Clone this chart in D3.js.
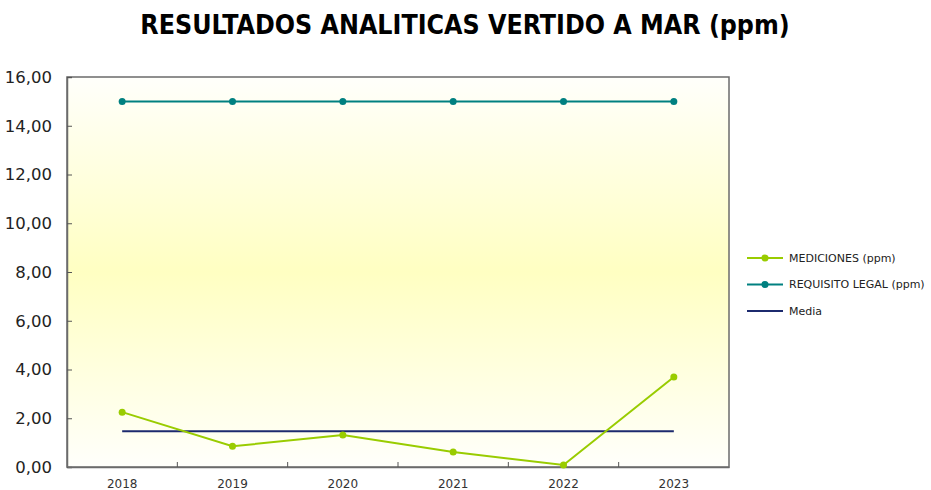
<!DOCTYPE html>
<html>
<head>
<meta charset="utf-8">
<script src="https://cdn.jsdelivr.net/npm/d3@7"></script>
<style>
  body { margin: 0; background: #fff; }
  text { font-family: "DejaVu Sans", Verdana, sans-serif; }
</style>
</head>
<body>
<div id="chart"></div>
<script>
// data
var years = ["2018", "2019", "2020", "2021", "2022", "2023"];
var mediciones = [2.25, 0.85, 1.31, 0.62, 0.08, 3.69];
var requisito = [15, 15, 15, 15, 15, 15];
var media = [1.47, 1.47, 1.47, 1.47, 1.47, 1.47];
var yTicks = [0, 2, 4, 6, 8, 10, 12, 14, 16];

var W = 931, H = 490;
var margin = { top: 77, right: 202, bottom: 23, left: 67 },
    width = W - margin.left - margin.right,
    height = H - margin.top - margin.bottom;

var svg = d3.select("#chart")
    .append("svg")
    .attr("width", W)
    .attr("height", H);

// yellow background band
var defs = svg.append("defs");
var grad = defs.append("linearGradient")
    .attr("id", "bg")
    .attr("x1", 0).attr("y1", 0).attr("x2", 0).attr("y2", 1);
grad.append("stop").attr("offset", "0%").attr("stop-color", "#fffffb");
grad.append("stop").attr("offset", "50%").attr("stop-color", "#ffffc2");
grad.append("stop").attr("offset", "100%").attr("stop-color", "#fffffb");

svg.append("text")
    .attr("x", 465)
    .attr("y", 34)
    .attr("text-anchor", "middle")
    .style("font-family", "'DejaVu Sans Condensed', 'DejaVu Sans', sans-serif")
    .style("font-weight", "bold")
    .style("font-size", "26.5px")
    .style("fill", "#000")
    .text("RESULTADOS ANALITICAS VERTIDO A MAR (ppm)");

var g = svg.append("g")
    .attr("transform", "translate(" + margin.left + "," + margin.top + ")");

var x = d3.scaleBand().domain(years).range([0, width]);
var y = d3.scaleLinear().domain([0, 16]).range([height, 0]);

g.append("rect")
    .attr("width", width)
    .attr("height", height)
    .attr("fill", "url(#bg)")
    .attr("stroke", "#6b6b6b")
    .attr("stroke-width", 1.5);

// y axis (ticks pointing inward)
var yAxis = g.append("g")
    .call(d3.axisLeft(y).tickValues(yTicks).tickSize(-5).tickPadding(15)
        .tickFormat(function(d) { return d3.format(".2f")(d).replace(".", ","); }));
yAxis.select(".domain").attr("stroke", "#6b6b6b").attr("stroke-width", 1.5);
yAxis.selectAll(".tick line").attr("stroke", "#555");
yAxis.selectAll("text")
    .style("font-size", "16.5px")
    .style("fill", "#222");

// x axis: labels centred, ticks on band edges
var xAxis = g.append("g")
    .attr("transform", "translate(0," + height + ")")
    .call(d3.axisBottom(x).tickSize(0).tickPadding(12));
xAxis.select(".domain").attr("stroke", "#6b6b6b").attr("stroke-width", 1.5);
xAxis.selectAll("text")
    .style("font-size", "12px")
    .style("fill", "#333");

g.selectAll(".xtick")
    .data(years.slice(1))
    .enter().append("line")
    .attr("class", "xtick")
    .attr("x1", function(d) { return x(d); })
    .attr("x2", function(d) { return x(d); })
    .attr("y1", height)
    .attr("y2", height - 5)
    .attr("stroke", "#555");

var line = d3.line()
    .x(function(d, i) { return x(years[i]) + x.bandwidth() / 2; })
    .y(function(d) { return y(d); });

var series = [
    { name: "MEDICIONES (ppm)", values: mediciones, color: "#99cc00", marker: true },
    { name: "REQUISITO LEGAL (ppm)", values: requisito, color: "#008080", marker: true },
    { name: "Media", values: media, color: "#1c2a6e", marker: false }
];

// draw media first so the others sit on top
[series[2], series[1], series[0]].forEach(function(s) {
    g.append("path")
        .datum(s.values)
        .attr("d", line)
        .attr("fill", "none")
        .attr("stroke", s.color)
        .attr("stroke-width", 2);
    if (s.marker) {
        g.selectAll(null)
            .data(s.values)
            .enter().append("circle")
            .attr("cx", function(d, i) { return x(years[i]) + x.bandwidth() / 2; })
            .attr("cy", function(d) { return y(d); })
            .attr("r", 3.5)
            .attr("fill", s.color);
    }
});

// legend
var legend = svg.append("g").attr("transform", "translate(747,258)");
var items = legend.selectAll("g")
    .data(series)
    .enter().append("g")
    .attr("transform", function(d, i) { return "translate(0," + (i * 26.5) + ")"; });
items.append("line")
    .attr("x1", 0).attr("x2", 36)
    .attr("stroke", function(d) { return d.color; })
    .attr("stroke-width", 2);
items.filter(function(d) { return d.marker; })
    .append("circle")
    .attr("cx", 18)
    .attr("r", 3.5)
    .attr("fill", function(d) { return d.color; });
items.append("text")
    .attr("x", 42)
    .attr("dy", "0.35em")
    .style("font-size", "11px")
    .style("fill", "#222")
    .text(function(d) { return d.name; });
</script>
</body>
</html>
